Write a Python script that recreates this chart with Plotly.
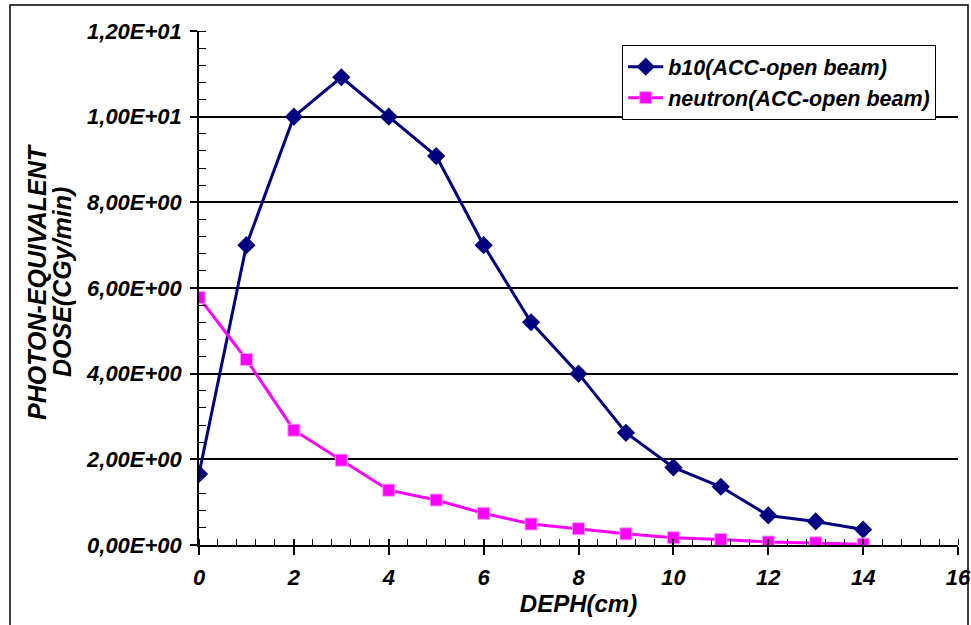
import plotly.graph_objects as go

depth = [0, 1, 2, 3, 4, 5, 6, 7, 8, 9, 10, 11, 12, 13, 14]
b10 = [1.66, 7.0, 10.0, 10.92, 10.0, 9.08, 7.0, 5.2, 4.0, 2.62, 1.81, 1.36, 0.69, 0.55, 0.36]
neutron = [5.78, 4.33, 2.68, 1.98, 1.28, 1.05, 0.74, 0.49, 0.38, 0.26, 0.17, 0.13, 0.07, 0.05, 0.02]

y_tickvals = [0, 2, 4, 6, 8, 10, 12]
y_ticktext = ["0,00E+00", "2,00E+00", "4,00E+00", "6,00E+00", "8,00E+00", "1,00E+01", "1,20E+01"]
x_tickvals = [0, 2, 4, 6, 8, 10, 12, 14, 16]
grid_vals = [2, 4, 6, 8, 10]
y_title_lines = ["PHOTON-EQUIVALENT", "DOSE(CGy/min)"]

FONT = "Liberation Sans"
bi = lambda s: "<b><i>" + s + "</i></b>"

W, H = 971, 625
L, R, T, B = 199, 13, 31, 80
PW, PH = W - L - R, H - T - B
px = lambda fx: (fx - L) / PW
py = lambda fy: (H - B - fy) / PH

fig = go.Figure()
# helper trace so the overlay axes (grid lines / inner ticks) get drawn
fig.add_trace(go.Scatter(
    x=depth, y=neutron, xaxis="x2", yaxis="y2", mode="markers",
    marker=dict(opacity=0), showlegend=False, hoverinfo="skip",
))
fig.add_trace(go.Scatter(
    x=depth, y=b10, mode="lines+markers", name=bi("b10(ACC-open beam)"),
    line=dict(color="#000080", width=3),
    marker=dict(symbol="diamond", size=14, color="#000080"),
))
fig.add_trace(go.Scatter(
    x=depth, y=neutron, mode="lines+markers", name=bi("neutron(ACC-open beam)"),
    line=dict(color="#FF00FF", width=3),
    marker=dict(symbol="square", size=12, color="#FF00FF", line=dict(color="#FF99FF", width=1)),
))

title_x = [37, 62]
fig.update_layout(
    template="none",
    width=W, height=H,
    margin=dict(l=L, r=R, t=T, b=B, autoexpand=False),
    paper_bgcolor="white", plot_bgcolor="white",
    font=dict(family=FONT, color="black", size=21),
    showlegend=True,
    legend=dict(
        x=px(622), y=py(45), xanchor="left", yanchor="top",
        bgcolor="white", bordercolor="black", borderwidth=1.2,
        font=dict(family=FONT, size=21.5, color="black"),
        tracegroupgap=0, itemwidth=35,
    ),
    xaxis=dict(
        automargin=False,
        range=[0, 16], tickvals=x_tickvals, ticktext=[bi(str(v)) for v in x_tickvals],
        showgrid=False, zeroline=False,
        showline=True, linecolor="black", linewidth=1.5,
        ticks="outside", ticklen=8, tickwidth=1.5, tickcolor="black",
        minor=dict(ticks="inside", dtick=0.4, ticklen=6, tickwidth=1, tickcolor="black", showgrid=False),
        tickfont=dict(size=22), ticklabelstandoff=4,
        title=dict(text=bi("DEPH(cm)"), font=dict(size=24), standoff=2),
    ),
    xaxis2=dict(
        automargin=False,
        overlaying="x", range=[0, 16], tickvals=x_tickvals, showticklabels=False,
        ticks="inside", ticklen=6, tickwidth=1.5, tickcolor="black",
        showgrid=False, zeroline=False, showline=False, anchor="y2", side="bottom",
    ),
    yaxis=dict(
        automargin=False,
        range=[0, 12], tickvals=y_tickvals, ticktext=[bi(t) for t in y_ticktext],
        showgrid=False, zeroline=False,
        showline=True, linecolor="black", linewidth=1.5,
        ticks="outside", ticklen=7, tickwidth=1.5, tickcolor="black",
        minor=dict(ticks="inside", dtick=0.4, ticklen=7, tickwidth=1, tickcolor="black", showgrid=False),
        tickfont=dict(size=22), ticklabelstandoff=4,
    ),
    yaxis2=dict(
        automargin=False,
        overlaying="y", range=[0, 12], tickvals=grid_vals, showticklabels=False,
        showgrid=True, gridcolor="black", gridwidth=1.5, ticks="",
        zeroline=False, showline=False, anchor="x2", side="left",
    ),
    annotations=[dict(
        text=bi(t),
        xref="paper", yref="paper", x=px(cx), y=py(282),
        xanchor="center", yanchor="middle", textangle=-90, showarrow=False,
        font=dict(family=FONT, size=25, color="black"),
    ) for t, cx in zip(y_title_lines, title_x)],
    shapes=[dict(
        type="rect", xref="paper", yref="paper",
        x0=px(10), x1=px(968), y0=py(680), y1=py(5),
        line=dict(color="black", width=1.5), layer="below",
    )],
)

fig.write_html("out.html", config={"displayModeBar": False},
               post_script="document.body.style.margin='0';")
